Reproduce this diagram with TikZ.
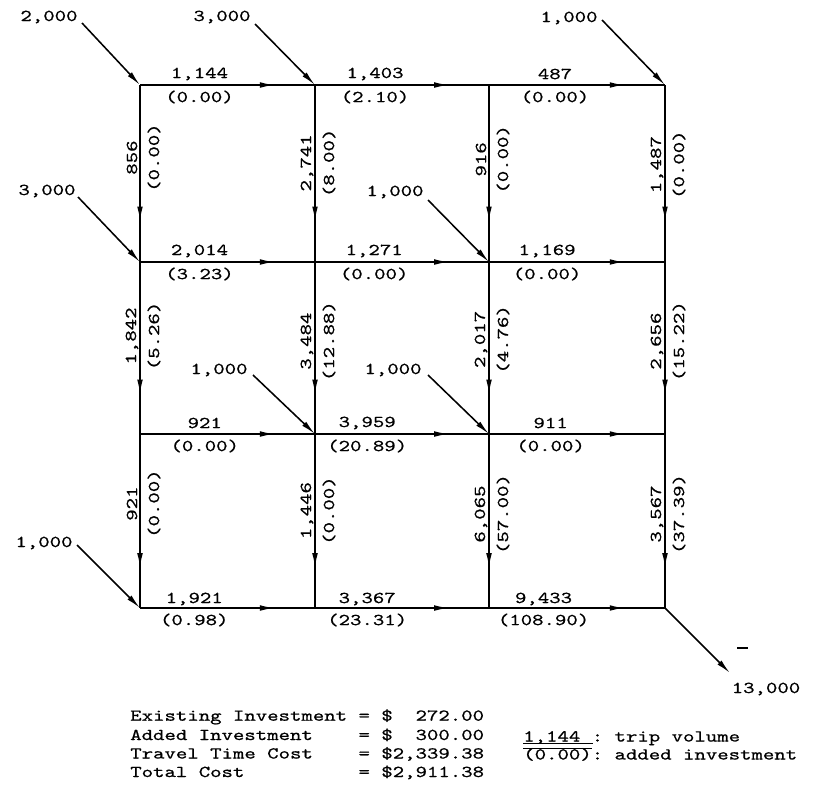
\documentclass[tikz,border=0pt]{standalone}
\usepackage{fontspec}
\newfontfamily\tw{lmmono10-regular.otf}[FakeStretch=1.31,FakeBold=0.7]
\usetikzlibrary{arrows.meta,decorations.markings,calc}
\newdimen\px \px=0.025cm
\newcommand\sk{\phantom{0}}
\newcommand\hedge[7]{%
  \draw[edge] (#1) -- node[lbl,pos=#3,yshift=#7\px] (v#6) {#4}
                      node[lbl,pos=#3,yshift=-12\px] (i#6) {#5} (#2);}
\newcommand\vedge[6]{%
  \draw[edge] (#1) -- node[lbl,pos=#3,xshift=-8\px,rotate=90] (v#6) {#4}
                      node[lbl,pos=#3,xshift=14\px,rotate=90] (i#6) {#5} (#2);}
\begin{document}
\begin{tikzpicture}[x=0.025cm,y=-0.025cm,
  lbl/.style={font=\tw\fontsize{11.8}{13}\selectfont,inner sep=0pt},
  edge/.style={line width=1.1pt,postaction={decorate},
    decoration={markings,mark=at position 0.77 with {\arrow{Latex[length=10.5pt,width=4pt]}}}},
  feed/.style={line width=1.1pt,-{Latex[length=10.5pt,width=4pt]}}]
\fill[white] (0,0) rectangle (816,785);
\useasboundingbox (0,0) rectangle (816,785);
% grid points
\foreach \c/\x in {1/140,2/315,3/489,4/665}
  \foreach \r/\y in {1/85,2/262,3/434,4/608}
    \coordinate (n\r\c) at (\x,\y);
% horizontal links
\hedge{n11}{n12}{0.34}{1,144}{(0.00)}{a1}{11}
\hedge{n12}{n13}{0.345}{1,403}{(2.10)}{a2}{11}
\hedge{n13}{n14}{0.375}{487}{(0.00)}{a3}{11}
\hedge{n21}{n22}{0.34}{2,014}{(3.23)}{b1}{11}
\hedge{n22}{n23}{0.34}{1,271}{(0.00)}{b2}{11}
\hedge{n23}{n24}{0.33}{1,169}{(0.00)}{b3}{11}
\hedge{n31}{n32}{0.37}{921}{(0.00)}{c1}{11}
\hedge{n32}{n33}{0.30}{3,959}{(20.89)}{c2}{11}
\hedge{n33}{n34}{0.35}{911}{(0.00)}{c3}{11}
\hedge{n41}{n42}{0.31}{1,921}{(0.98)}{d1}{9}
\hedge{n42}{n43}{0.30}{3,367}{(23.31)}{d2}{9}
\hedge{n43}{n44}{0.31}{9,433}{(108.90)}{d3}{9}
% vertical links
\vedge{n11}{n21}{0.41}{856}{(0.00)}{p1}
\vedge{n21}{n31}{0.43}{1,842}{(5.26)}{p2}
\vedge{n31}{n41}{0.40}{921}{(0.00)}{p3}
\vedge{n12}{n22}{0.44}{2,741}{(8.00)}{q1}
\vedge{n22}{n32}{0.46}{3,484}{(12.88)}{q2}
\vedge{n32}{n42}{0.44}{1,446}{(0.00)}{q3}
\vedge{n13}{n23}{0.42}{916}{(0.00)}{r1}
\vedge{n23}{n33}{0.45}{2,017}{(4.76)}{r2}
\vedge{n33}{n43}{0.46}{6,065}{(57.00)}{r3}
\vedge{n14}{n24}{0.45}{1,487}{(0.00)}{s1}
\vedge{n24}{n34}{0.46}{2,656}{(15.22)}{s2}
\vedge{n34}{n44}{0.46}{3,567}{(37.39)}{s3}
% trip inputs
\node[lbl] (f1) at (49,17) {2,000};  \coordinate (f1s) at (82,23);
\node[lbl] (f2) at (222,17) {3,000}; \coordinate (f2s) at (255,24);
\node[lbl] (f3) at (569,18) {1,000}; \coordinate (f3s) at (602,20);
\node[lbl] (f4) at (47,191) {3,000}; \coordinate (f4s) at (78,197);
\node[lbl] (f5) at (395,192) {1,000}; \coordinate (f5s) at (428,200);
\node[lbl] (f6) at (219,370) {1,000}; \coordinate (f6s) at (253,375);
\node[lbl] (f7) at (393,370) {1,000}; \coordinate (f7s) at (428,375);
\node[lbl] (f8) at (44,543) {1,000};  \coordinate (f8s) at (77,545);
\draw[feed] (f1s) -- (n11);
\draw[feed] (f2s) -- (n12);
\draw[feed] (f3s) -- (n14);
\draw[feed] (f4s) -- (n21);
\draw[feed] (f5s) -- (n23);
\draw[feed] (f6s) -- (n32);
\draw[feed] (f7s) -- (n33);
\draw[feed] (f8s) -- (n41);
% output
\coordinate (oe) at (730,673);
\draw[feed] (n44) -- (oe);
\node[lbl] (out) at (766,689) {13,000};
\draw[line width=0.8pt] (737,648) -- (748,648);
% legend
\node[lbl,anchor=base west] (L1) at (130,720.7) {Existing\sk Investment\sk=\sk\$\sk\sk272.00};
\node[lbl,anchor=base west] (L2) at (130,740) {Added\sk Investment\sk\sk\sk\sk=\sk\$\sk\sk300.00};
\node[lbl,anchor=base west] (L3) at (130,758.5) {Travel\sk Time\sk Cost\sk\sk\sk\sk=\sk\$2,339.38};
\node[lbl,anchor=base west] (L4) at (130,777) {Total\sk Cost\sk\sk\sk\sk\sk\sk\sk\sk\sk\sk=\sk\$2,911.38};
\node[lbl,anchor=base west] (R1) at (523,741.5) {1,144\sk:\sk trip\sk volume};
\node[lbl,anchor=base west] (R2) at (523,759.5) {(0.00):\sk added\sk investment};
\draw[line width=0.7pt] (523,743) -- (593,743);
\draw[line width=0.7pt] (523,748) -- (592,748);
\end{tikzpicture}
\end{document}
